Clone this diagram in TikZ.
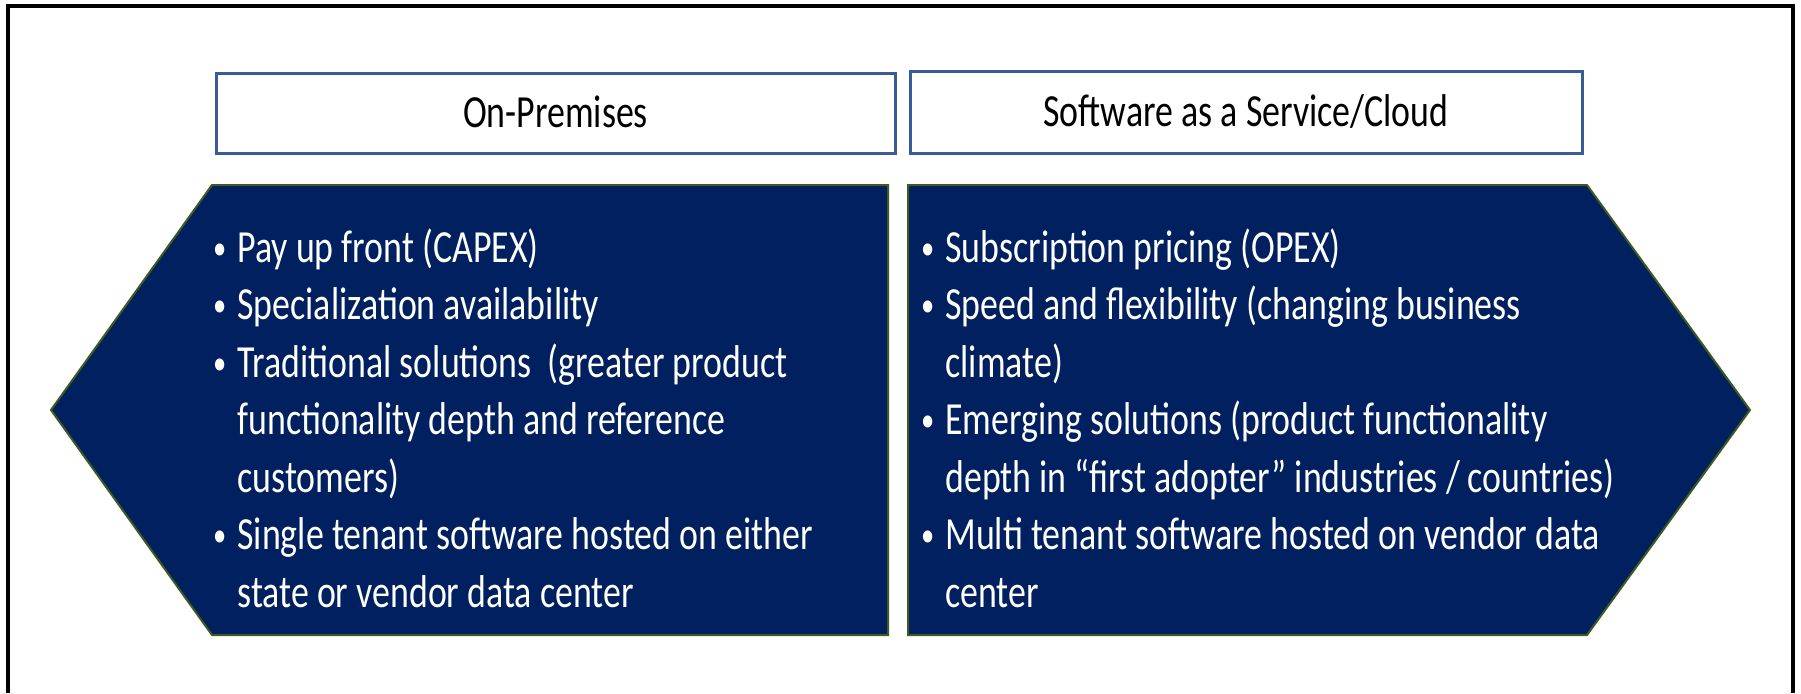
\documentclass[tikz,border=0pt]{standalone}
\usepackage{fontspec}
\setmainfont{Carlito}[FakeStretch=0.78]
\usepackage{tikz}
\usetikzlibrary{calc}

\definecolor{panelfill}{HTML}{002060}
\definecolor{paneledge}{HTML}{3F5A1E}
\definecolor{hdredge}{HTML}{3A5A98}

\newcommand{\bul}{\llap{\raisebox{1.5pt}{\fontsize{17}{17}\selectfont\textbullet}\hspace{5.5pt}}}

\begin{document}
\begin{tikzpicture}[x=0.5pt,y=-0.5pt,
  hdr/.style={draw=hdredge,line width=1.5pt,fill=white,inner sep=0pt,
    text height=16pt,text depth=1.4pt,font=\fontsize{23}{28}\selectfont},
  panel/.style={draw=paneledge,line width=1pt,fill=panelfill},
  item/.style={anchor=base west,inner sep=0pt,text=white,
    font=\fontsize{23}{28}\selectfont}]
\useasboundingbox (0,0) rectangle (1801,693);

% frame
\draw[line width=2pt] (8,693) -- (8,6) -- (1793,6) -- (1793,693);

% headers
\node(onprem) at (555.5,113)[hdr,minimum width=339.5pt,minimum height=40pt] {On-Premises};
\node(saas) at (1246,112)[hdr,minimum width=336pt,minimum height=41pt] {Software as a Service/Cloud};

% arrow panels
\draw[panel] (51,410) -- (212,185) -- (888,185) -- (888,635) -- (212,635) -- cycle;
\draw[panel] (908,185) -- (1587,185) -- (1750,410) -- (1587,635) -- (908,635) -- cycle;

% left list
\foreach \txt [count=\i] in {{\bul Pay up front (CAPEX)},
    {\bul Specialization availability},
    {\bul Traditional solutions\ \ (greater product},
    {functionality depth and reference},
    {customers)},
    {\bul Single tenant software hosted on either},
    {state or vendor data center}}
  \node(l\i) at (237,{262+57.5*(\i-1)})[item] {\txt};

% right list
\foreach \txt [count=\i] in {{\bul Subscription pricing (OPEX)},
    {\bul Speed and flexibility (changing business},
    {climate)},
    {\bul Emerging solutions (product functionality},
    {depth in “first adopter” industries / countries)},
    {\bul Multi tenant software hosted on vendor data},
    {center}}
  \node(r\i) at (945,{262+57.5*(\i-1)})[item] {\txt};

\end{tikzpicture}
\end{document}
